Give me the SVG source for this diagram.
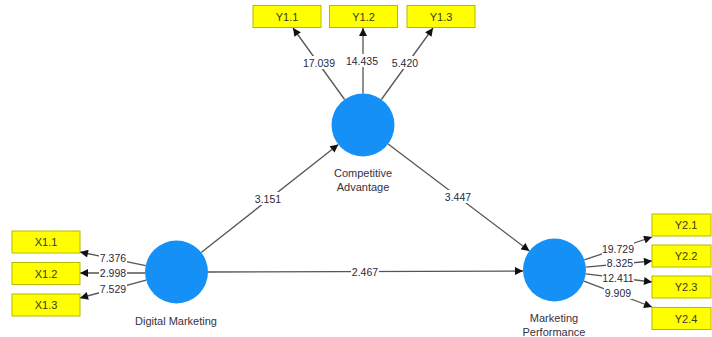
<svg xmlns="http://www.w3.org/2000/svg" width="712" height="337" viewBox="0 0 712 337">
<defs>
<marker id="ah" viewBox="0 0 10 10" refX="10" refY="5" markerWidth="9" markerHeight="8" markerUnits="userSpaceOnUse" orient="auto">
<path d="M0,0 L10,5 L0,10 z" fill="#111"/>
</marker>
<style>
.ln{stroke:#555;stroke-width:1.3;fill:none;marker-end:url(#ah)}
.lb{fill:#fff}
.num{font-family:"Liberation Sans",Arial,sans-serif;font-size:10.5px;fill:#2a2a3a;text-anchor:middle}
.box{fill:#ffff00;stroke:#b8b800;stroke-width:1}
.bt{font-family:"Liberation Sans",Arial,sans-serif;font-size:11px;fill:#3a3a20;text-anchor:middle}
.cir{fill:#1490f7}
.nt{font-family:"Liberation Sans",Arial,sans-serif;font-size:11px;fill:#3a3040;text-anchor:middle}
</style>
</defs>
<rect width="712" height="337" fill="#fff"/>
<g id="connectors">
<line class="ln" x1="344.6" y1="99.5" x2="293" y2="28"/>
<line class="ln" x1="363" y1="93.5" x2="363" y2="28"/>
<line class="ln" x1="381.4" y1="99.5" x2="433" y2="28"/>
<line class="ln" x1="145.7" y1="265.6" x2="80" y2="252"/>
<line class="ln" x1="145" y1="273" x2="80" y2="273"/>
<line class="ln" x1="146.1" y1="280.2" x2="80" y2="298"/>
<line class="ln" x1="584.3" y1="259.9" x2="652" y2="237"/>
<line class="ln" x1="585.9" y1="267.1" x2="652" y2="261"/>
<line class="ln" x1="585.8" y1="273.8" x2="652" y2="282"/>
<line class="ln" x1="584" y1="281.2" x2="652" y2="307"/>
<line class="ln" x1="201.2" y1="252.5" x2="338.3" y2="144.5"/>
<line class="ln" x1="388.1" y1="144" x2="529.4" y2="251"/>
<line class="ln" x1="208" y1="272" x2="523" y2="271"/>
<rect class="lb" x="303" y="56" width="32" height="13"/>
<rect class="lb" x="346" y="54" width="32" height="13"/>
<rect class="lb" x="391" y="56" width="28" height="13"/>
<rect class="lb" x="99" y="251" width="28" height="13"/>
<rect class="lb" x="99" y="266" width="28" height="13"/>
<rect class="lb" x="99" y="282" width="28" height="13"/>
<rect class="lb" x="602" y="242" width="32" height="13"/>
<rect class="lb" x="606" y="256" width="28" height="13"/>
<rect class="lb" x="602" y="271" width="32" height="13"/>
<rect class="lb" x="604" y="286" width="28" height="13"/>
<rect class="lb" x="254" y="192" width="28" height="13"/>
<rect class="lb" x="444" y="190" width="28" height="13"/>
<rect class="lb" x="351" y="265" width="28" height="13"/>
<text class="num" x="319" y="67">17.039</text>
<text class="num" x="362" y="65">14.435</text>
<text class="num" x="405" y="67">5.420</text>
<text class="num" x="113" y="262">7.376</text>
<text class="num" x="113" y="277">2.998</text>
<text class="num" x="113" y="293">7.529</text>
<text class="num" x="618" y="253">19.729</text>
<text class="num" x="620" y="267">8.325</text>
<text class="num" x="618" y="282">12.411</text>
<text class="num" x="618" y="297">9.909</text>
<text class="num" x="268" y="203">3.151</text>
<text class="num" x="458" y="201">3.447</text>
<text class="num" x="365" y="276">2.467</text>
</g>
<g id="node-ca">
<circle class="cir" cx="363" cy="125" r="31.5"/>
<text class="nt" x="363" y="177">Competitive</text>
<text class="nt" x="363" y="191">Advantage</text>
</g>
<g id="node-dm">
<circle class="cir" cx="176.5" cy="272" r="31.5"/>
<text class="nt" x="176" y="325">Digital Marketing</text>
</g>
<g id="node-mp">
<circle class="cir" cx="554.5" cy="270" r="31.5"/>
<text class="nt" x="554" y="322">Marketing</text>
<text class="nt" x="554" y="336">Performance</text>
</g>
<g id="node-y11"><rect class="box" x="253" y="5.5" width="68" height="22"/><text class="bt" x="287" y="20.5">Y1.1</text></g>
<g id="node-y12"><rect class="box" x="329.5" y="5.5" width="68" height="22"/><text class="bt" x="363.5" y="20.5">Y1.2</text></g>
<g id="node-y13"><rect class="box" x="407" y="5.5" width="68" height="22"/><text class="bt" x="441" y="20.5">Y1.3</text></g>
<g id="node-x11"><rect class="box" x="12" y="231" width="68" height="22"/><text class="bt" x="46" y="246">X1.1</text></g>
<g id="node-x12"><rect class="box" x="12" y="262.5" width="68" height="22"/><text class="bt" x="46" y="277.5">X1.2</text></g>
<g id="node-x13"><rect class="box" x="12" y="294" width="68" height="22"/><text class="bt" x="46" y="309">X1.3</text></g>
<g id="node-y21"><rect class="box" x="652" y="214" width="59" height="22"/><text class="bt" x="686" y="229">Y2.1</text></g>
<g id="node-y22"><rect class="box" x="652" y="245" width="59" height="22"/><text class="bt" x="686" y="260">Y2.2</text></g>
<g id="node-y23"><rect class="box" x="652" y="276" width="59" height="22"/><text class="bt" x="686" y="291">Y2.3</text></g>
<g id="node-y24"><rect class="box" x="652" y="307.5" width="59" height="22"/><text class="bt" x="686" y="322.5">Y2.4</text></g>
</svg>
